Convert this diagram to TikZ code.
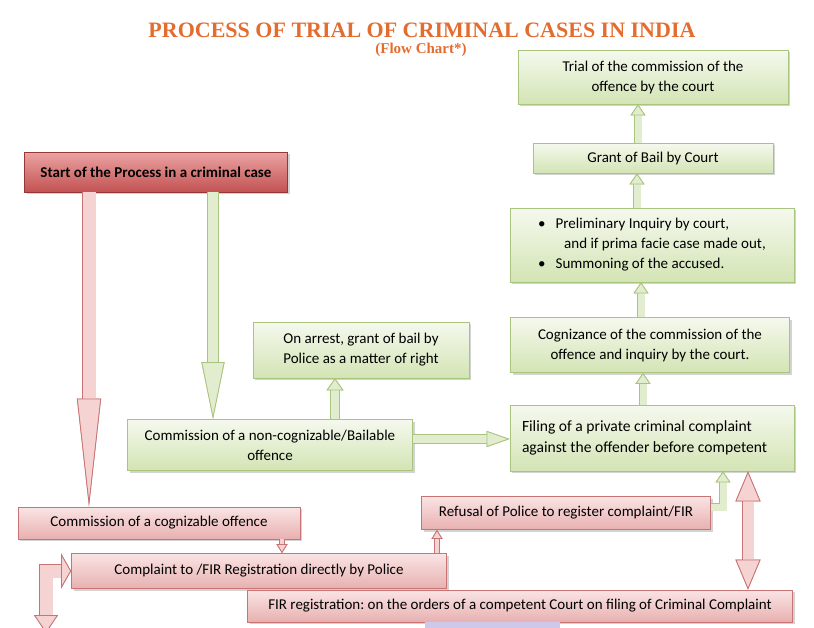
\documentclass[tikz,border=0pt]{standalone}
\usepackage{fontspec}
\setmainfont{Carlito}
\newfontfamily\titlefont{Liberation Serif}
\usetikzlibrary{arrows.meta,shadows}
\frenchspacing

\definecolor{gline}{HTML}{A9C47E}
\definecolor{gtop}{HTML}{F5F9EE}
\definecolor{gbot}{HTML}{D3E4B4}
\definecolor{pline}{HTML}{C87474}
\definecolor{ptop}{HTML}{FAE4E4}
\definecolor{pbot}{HTML}{E8B0B0}
\definecolor{rline}{HTML}{953735}
\definecolor{rtop}{HTML}{EBA3A3}
\definecolor{rbot}{HTML}{C35252}
\definecolor{garrowfill}{HTML}{E2EDD0}
\definecolor{parrowfill}{HTML}{F5D3D3}
\definecolor{titleorange}{HTML}{E36C2F}
\definecolor{lavender}{HTML}{CEC8EA}

\begin{document}
\begin{tikzpicture}[x=1pt,y=-1pt,semithick,font=\fontsize{15}{20}\selectfont]
\useasboundingbox (0,0) rectangle (814,627);
\tikzstyle{box}=[shape=rectangle,line width=0.8pt,align=center,inner sep=0pt,drop shadow={shadow xshift=2pt,shadow yshift=-2pt,opacity=.35}]
\tikzstyle{gbox}=[box,draw=gline,top color=gtop,bottom color=gbot]
\tikzstyle{pbox}=[box,draw=pline,top color=ptop,bottom color=pbot]
\tikzstyle{rbox}=[box,draw=rline,top color=rtop,bottom color=rbot,font=\fontsize{15}{20}\selectfont\bfseries]
\tikzset{garrow/.style={line width=#1,draw=garrowfill,line join=miter,preaction={draw=gline,line width=#1+1.6pt}},
  parrow/.style={line width=#1,draw=parrowfill,line join=miter,preaction={draw=pline,line width=#1+1.6pt}}}
\tikzstyle{gtip}=[-{Triangle[length=11pt,width=15pt,line width=0.8pt,color=gline,fill=garrowfill]}]
\tikzstyle{ptip}=[-{Triangle[length=9pt,width=11pt,line width=0.8pt,color=pline,fill=parrowfill]}]

% title
\node[font=\titlefont\bfseries\fontsize{22}{26}\selectfont,text=titleorange,anchor=base] (title) at (422,37) {PROCESS OF TRIAL OF CRIMINAL CASES IN INDIA};
\node[font=\titlefont\bfseries\fontsize{15}{18}\selectfont,text=titleorange,anchor=base] (subtitle) at (421,53) {(Flow Chart*)};

% right column
\node[gbox,minimum width=270,minimum height=54] (trial) at (653,77) {Trial of the commission of the\\offence by the court};
\node[gbox,minimum width=240,minimum height=30] (grant) at (653,158) {Grant of Bail by Court};
\node[gbox,minimum width=284,minimum height=74,align=left] (prelim) at (652,245) {\textbullet\hspace{10pt}Preliminary Inquiry by court,\\\hspace{26pt}and if prima facie case made out,\\\textbullet\hspace{10pt}Summoning of the accused.};
\node[gbox,minimum width=279,minimum height=55] (cogn) at (650,345) {Cognizance of the commission of the\\offence and inquiry by the court.};
\node[gbox,minimum height=66,text width=260,inner xsep=12pt,align=flush left,font=\fontsize{15.6}{21}\selectfont] (filing) at (652,438) {Filing of a private criminal complaint\\against the offender before competent};

% middle
\node[gbox,minimum width=216,minimum height=56] (arrest) at (361,350) {On arrest, grant of bail by\\Police as a matter of right};
\node[gbox,minimum width=285,minimum height=51] (noncog) at (270,445) {Commission of a non-cognizable/Bailable\\offence};

% left and bottom
\node[rbox,minimum width=263,minimum height=40] (start) at (156,172) {Start of the Process in a criminal case};
\node[pbox,minimum width=282,minimum height=32] (cogoff) at (159,523) {Commission of a cognizable offence};
\node[pbox,minimum width=375,minimum height=35] (complaint) at (259,571) {Complaint to /FIR Registration directly by Police};
\node[pbox,minimum width=289,minimum height=33] (refusal) at (566,513) {Refusal of Police to register complaint/FIR};
\node[pbox,minimum width=545,minimum height=32] (firreg) at (520,606) {FIR registration: on the orders of a competent Court on filing of Criminal Complaint};
\fill[lavender] (425,622) rectangle (560,630);

% arrows up the right column
\draw[garrow=7pt,gtip] ([xshift=-15pt]grant.north) -- ([xshift=-15pt]grant.north |- trial.south);
\draw[garrow=7pt,gtip] ([xshift=-15pt]prelim.north) -- ([xshift=-15pt]prelim.north |- grant.south);
\draw[garrow=7pt,gtip] ([xshift=-9pt]cogn.north) -- ([xshift=-9pt]cogn.north |- prelim.south);
\draw[garrow=7pt,gtip] ([xshift=-9pt]filing.north) -- ([xshift=-9pt]filing.north |- cogn.south);

% from the start
\draw[parrow=13pt,-{Triangle[length=108pt,width=24pt,line width=0.8pt,color=pline,fill=parrowfill]}] ([xshift=-67pt]start.south) -- ([xshift=-67pt]start.south |- cogoff.north);
\draw[garrow=10pt,-{Triangle[length=57pt,width=23pt,line width=0.8pt,color=gline,fill=garrowfill]}] ([xshift=57pt]start.south) -- ([xshift=57pt]start.south |- noncog.north);

% non-cognizable
\draw[garrow=8pt,-{Triangle[length=12pt,width=17pt,line width=0.8pt,color=gline,fill=garrowfill]}] ([xshift=-26pt]arrest.south |- noncog.north) -- ([xshift=-26pt]arrest.south);
\draw[garrow=8pt,-{Triangle[length=23pt,width=16pt,line width=0.8pt,color=gline,fill=garrowfill]}] ([yshift=6pt]noncog.east) -- ([yshift=6pt]noncog.east -| filing.west);

% cognizable
\draw[parrow=4pt,ptip] ([xshift=123pt]cogoff.south) -- ([xshift=123pt]cogoff.south |- complaint.north);
\draw[parrow=4pt,ptip] ([xshift=178pt]complaint.north) -- ([xshift=178pt]complaint.north |- refusal.south);
\draw[garrow=7pt,gtip] ([yshift=6pt]refusal.east) -| ([xshift=71pt]filing.south);
\draw[parrow=11pt,{Triangle[length=30pt,width=25pt,line width=0.8pt,color=pline,fill=parrowfill]}-{Triangle[length=30pt,width=25pt,line width=0.8pt,color=pline,fill=parrowfill]}] ([xshift=96pt]filing.south) -- ([xshift=96pt]filing.south |- firreg.north);
\draw[parrow=13pt,{Triangle[length=18pt,width=24pt,line width=0.8pt,color=pline,fill=parrowfill]}-{Triangle[length=10pt,width=35pt,line width=0.8pt,color=pline,fill=parrowfill]}] (46,633) |- (complaint.west);
\end{tikzpicture}
\end{document}
